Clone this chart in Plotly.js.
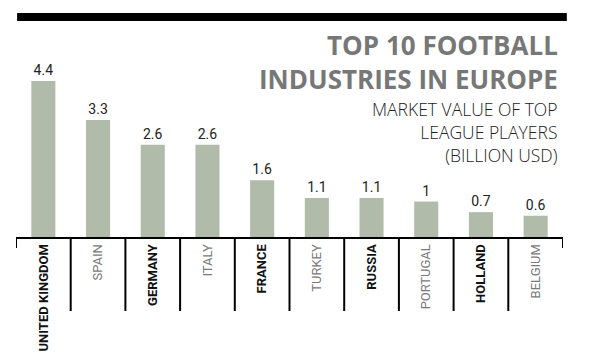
<!DOCTYPE html>
<html>
<head>
<meta charset="utf-8">
<script src="https://cdn.plot.ly/plotly-3.0.1.min.js"></script>
<style>html,body{margin:0;padding:0;background:#fff;}#chart{width:600px;height:361px;}</style>
</head>
<body>
<div id="chart"></div>
<script>
var countries = ["UNITED KINGDOM","SPAIN","GERMANY","ITALY","FRANCE","TURKEY","RUSSIA","PORTUGAL","HOLLAND","BELGIUM"];
var values = [4.4, 3.3, 2.6, 2.6, 1.6, 1.1, 1.1, 1, 0.7, 0.6];
var valueLabels = ["4.4","3.3","2.6","2.6","1.6","1.1","1.1","1","0.7","0.6"];
var labelStrong = [true,false,true,false,true,false,true,false,true,false];
var titleLines = ["TOP 10 FOOTBALL","INDUSTRIES IN EUROPE"];
var subtitleLines = ["MARKET VALUE OF TOP","LEAGUE PLAYERS","(BILLION USD)"];

var idx = countries.map(function(_, i){ return i; });
var tickText = countries.map(function(c, i){
  return labelStrong[i] ? '<span style="color:#111"><b>' + c + '</b></span>'
                        : '<span style="color:#7a7a7a">' + c + '</span>';
});

var plotH = 195;
function py(px){ return -px / plotH; } // pixels below axis -> paper y

var shapes = [];
// top black band
shapes.push({type:'rect', xref:'paper', yref:'paper', x0:0.002, x1:1.007, y0:(237-21)/plotH, y1:(237-13)/plotH,
  fillcolor:'#000', line:{width:0}});
// separators between categories
for (var i = 0; i < countries.length - 1; i++) {
  shapes.push({type:'line', xref:'x', yref:'paper', x0:i+0.5, x1:i+0.5, y0:0, y1:py(74),
    line:{color:'#000', width:2}});
}
// short end ticks
shapes.push({type:'line', xref:'x', yref:'paper', x0:-0.5, x1:-0.5, y0:0, y1:py(11), line:{color:'#000', width:2}});
shapes.push({type:'line', xref:'x', yref:'paper', x0:countries.length-0.5, x1:countries.length-0.5, y0:0, y1:py(11), line:{color:'#000', width:2}});

var data = [{
  type:'bar',
  x: idx,
  y: values,
  text: valueLabels,
  textposition:'outside',
  cliponaxis:false,
  textfont:{family:'"Liberation Sans Narrow", Roboto, sans-serif', size:14, color:'#222'},
  marker:{color:'#b0bba9', line:{width:0}},
  width:0.44,
  hoverinfo:'none'
}];

var layout = {
  width:600, height:361,
  margin:{l:16, r:37, t:42, b:124, pad:0},
  paper_bgcolor:'#fff', plot_bgcolor:'#fff',
  showlegend:false,
  xaxis:{
    range:[-0.5, countries.length-0.5],
    tickvals: idx, ticktext: tickText,
    tickangle:-90,
    tickfont:{family:'"Liberation Sans Narrow", Roboto, sans-serif', size:13},
    showline:true, linecolor:'#000', linewidth:2,
    ticks:'', showgrid:false, zeroline:false, fixedrange:true
  },
  yaxis:{
    range:[0, 5.5], visible:false, showgrid:false, zeroline:false, fixedrange:true
  },
  shapes: shapes,
  annotations:[
    {xref:'paper', yref:'paper', x:(560-16)/547, y:(237-62)/plotH, xanchor:'right', yanchor:'middle', align:'right',
     showarrow:false, text:'<b>' + titleLines.join('<br>') + '</b>',
     font:{family:'"Open Sans", sans-serif', size:26, color:'#777', weight:800}},
    {xref:'paper', yref:'paper', x:(560-16)/547, y:(237-132)/plotH, xanchor:'right', yanchor:'middle', align:'right',
     showarrow:false, text: subtitleLines.join('<br>'),
     font:{family:'"Open Sans", sans-serif', size:17.5, color:'#222', weight:300}}
  ]
};

Plotly.newPlot('chart', data, layout, {displayModeBar:false, staticPlot:true});
</script>
</body>
</html>
